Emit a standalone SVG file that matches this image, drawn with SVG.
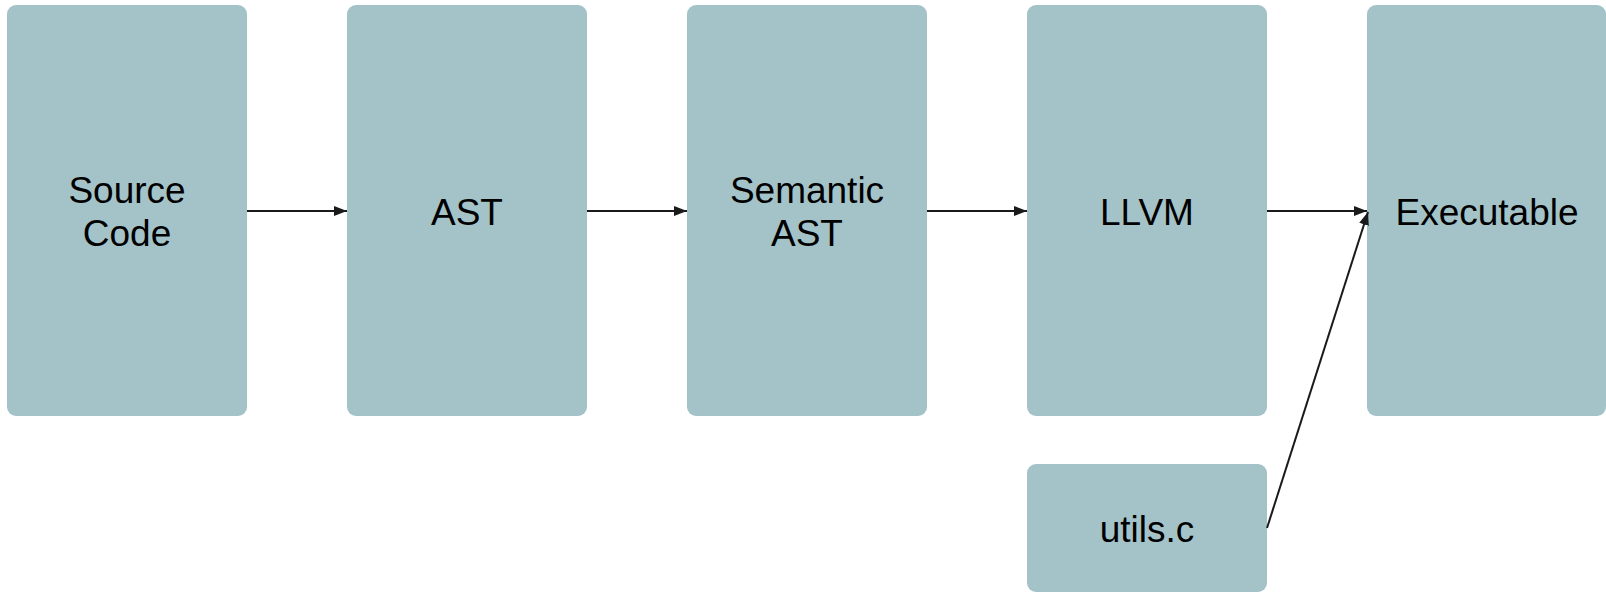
<svg xmlns="http://www.w3.org/2000/svg" width="1606" height="593" viewBox="0 0 1606 593">
<style>
.box{fill:#a4c3c8;}
.lbl{font-family:"Liberation Sans",Arial,sans-serif;font-size:37px;fill:#000;text-anchor:middle;}
.edge{stroke:#1a1a1a;stroke-width:2;fill:none;marker-end:url(#arr);}
</style>
<defs>
<marker id="arr" markerUnits="userSpaceOnUse" markerWidth="14" markerHeight="12" refX="13" refY="5" orient="auto">
<path d="M0,0 L13,5 L0,10 Z" fill="#1a1a1a"/>
</marker>
</defs>
<rect width="1606" height="593" fill="#fff"/>
<g id="source"><rect class="box" x="7" y="5" width="240" height="411" rx="9"/><text class="lbl" x="127" y="203">Source</text><text class="lbl" x="127" y="246">Code</text></g>
<g id="ast"><rect class="box" x="347" y="5" width="240" height="411" rx="9"/><text class="lbl" x="467" y="225">AST</text></g>
<g id="semantic"><rect class="box" x="687" y="5" width="240" height="411" rx="9"/><text class="lbl" x="807" y="203">Semantic</text><text class="lbl" x="807" y="246">AST</text></g>
<g id="llvm"><rect class="box" x="1027" y="5" width="240" height="411" rx="9"/><text class="lbl" x="1147" y="225">LLVM</text></g>
<g id="exec"><rect class="box" x="1367" y="5" width="239" height="411" rx="9"/><text class="lbl" x="1487" y="225">Executable</text></g>
<g id="utils"><rect class="box" x="1027" y="464" width="240" height="128" rx="9"/><text class="lbl" x="1147" y="542">utils.c</text></g>
<g id="connectors">
<line class="edge" x1="247" y1="211" x2="347" y2="211"/>
<line class="edge" x1="587" y1="211" x2="687" y2="211"/>
<line class="edge" x1="927" y1="211" x2="1027" y2="211"/>
<line class="edge" x1="1267" y1="211" x2="1367" y2="211"/>
<line class="edge" x1="1267" y1="528" x2="1368" y2="212"/>
</g>
</svg>
